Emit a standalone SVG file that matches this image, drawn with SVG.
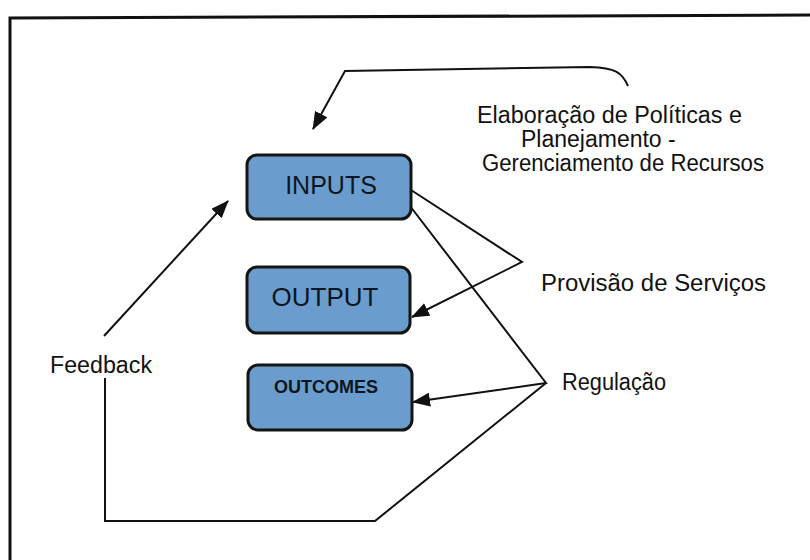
<svg xmlns="http://www.w3.org/2000/svg" width="810" height="560" viewBox="0 0 810 560">
<style>
.lbl{font-family:"Liberation Sans",Arial,sans-serif;font-size:23px;fill:#111}
.box{fill:#6a9dcd;stroke:#151515;stroke-width:3}
.bt{font-family:"Liberation Sans",Arial,sans-serif;fill:#0d1620;text-anchor:middle}
.ln{fill:none;stroke:#111;stroke-width:2;stroke-linejoin:miter}
</style>
<defs>
<marker id="ah" viewBox="0 0 18 14" refX="17" refY="7" markerWidth="18" markerHeight="14" markerUnits="userSpaceOnUse" orient="auto">
<path d="M0,0 L18,7 L0,14 z" fill="#111"/>
</marker>
</defs>
<rect width="810" height="560" fill="#fff"/>
<path d="M10,560 L10,18 L810,15" fill="none" stroke="#111" stroke-width="3"/>
<g id="connectors">
<path class="ln" d="M628,86 C622,72 615,68 590,67 L345,71 L313,129" marker-end="url(#ah)"/>
<path class="ln" d="M411,190 L522,262 L412,317" marker-end="url(#ah)"/>
<path class="ln" d="M410,206 L546,383 L413,402" marker-end="url(#ah)"/>
<path class="ln" d="M546,383 L375,521 L105,521 L105,378"/>
<path class="ln" d="M104,336 L228,201" marker-end="url(#ah)"/>
</g>
<g id="inputs">
<rect class="box" x="247" y="155" width="164" height="64" rx="10"/>
<text class="bt" x="331" y="194" font-size="25">INPUTS</text>
</g>
<g id="output">
<rect class="box" x="247" y="267" width="163" height="66" rx="10"/>
<text class="bt" x="325" y="306" font-size="26">OUTPUT</text>
</g>
<g id="outcomes">
<rect class="box" x="248" y="365" width="164" height="65" rx="10"/>
<text class="bt" x="326" y="393" font-size="18" font-weight="bold">OUTCOMES</text>
</g>
<g id="labels">
<text class="lbl" x="477" y="123" textLength="265" lengthAdjust="spacingAndGlyphs">Elaboração de Políticas e</text>
<text class="lbl" x="521" y="147">Planejamento -</text>
<text class="lbl" x="482" y="171" textLength="282" lengthAdjust="spacingAndGlyphs">Gerenciamento de Recursos</text>
<text class="lbl" x="541" y="291" textLength="225" lengthAdjust="spacingAndGlyphs">Provisão de Serviços</text>
<text class="lbl" x="562" y="390" textLength="104" lengthAdjust="spacingAndGlyphs">Regulação</text>
<text class="lbl" x="50" y="373" textLength="102" lengthAdjust="spacingAndGlyphs">Feedback</text>
</g>
</svg>
